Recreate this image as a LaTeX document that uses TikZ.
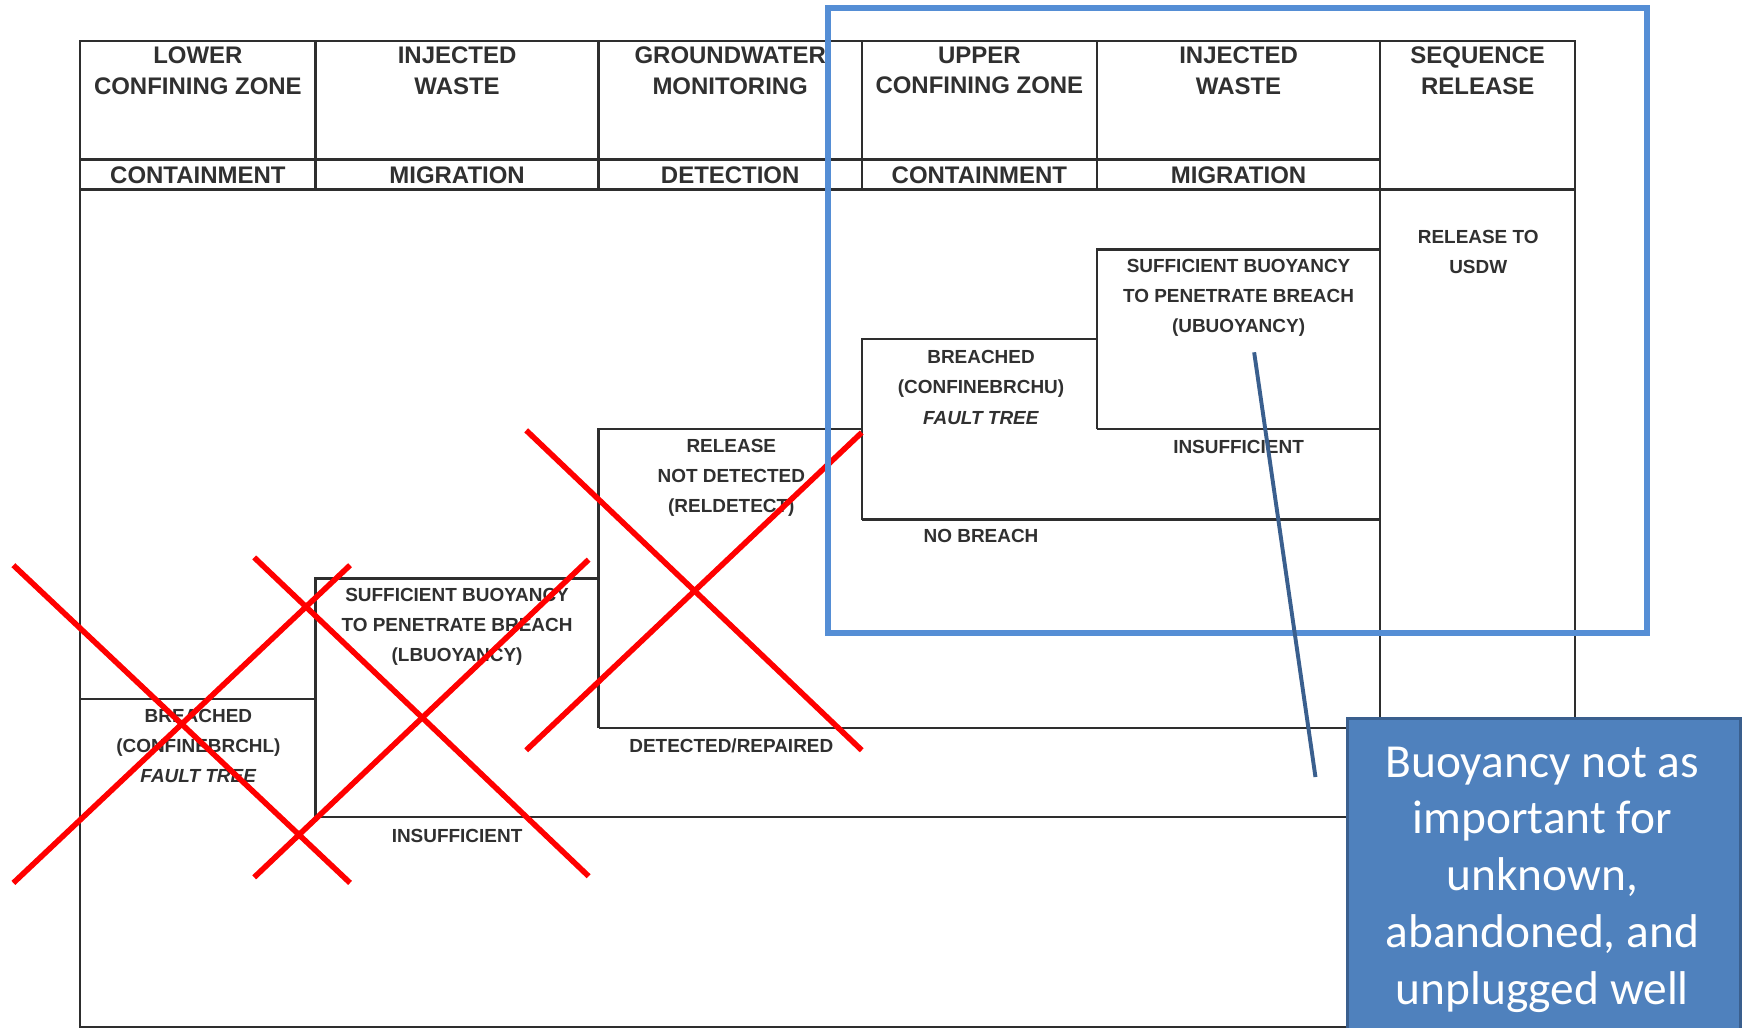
\documentclass[tikz,border=0pt]{standalone}
\usepackage{fontspec}
\newfontfamily\tablefont{Liberation Sans}
\newfontfamily\notefont{Carlito}
\definecolor{tableline}{HTML}{2E2E2E}
\definecolor{tabletext}{HTML}{303030}
\definecolor{framecol}{HTML}{558ED5}
\definecolor{notefill}{HTML}{4F81BD}
\definecolor{noteedge}{HTML}{3A5F8E}
\begin{document}
\begin{tikzpicture}[x=1pt,y=-1pt,
  grid/.style={draw=tableline, line width=2.2pt},
  headtxt/.style={font=\tablefont\bfseries\fontsize{21.5}{27}\selectfont, text=tabletext, align=center, inner sep=0pt},
  celltxt/.style={font=\tablefont\bfseries\fontsize{17}{27}\selectfont, text=tabletext, align=center, inner sep=0pt},
  cross/.style={draw=red, line width=5pt},
  frame/.style={draw=framecol, line width=5.5pt},
  pointer/.style={draw=noteedge, line width=3.5pt},
  notebox/.style={fill=notefill, draw=noteedge, line width=3pt, inner sep=0pt},
  notetxt/.style={font=\notefont\fontsize{42.5}{51}\selectfont, text=white, align=center, inner sep=0pt}
]
\fill[white] (0,0) rectangle (1568,922);
\clip (0,0) rectangle (1568,922);

% table frame and header rules
\draw[grid] (72,37) rectangle (1413,921);
\draw[grid] (72,143) -- (1238,143);
\draw[grid] (72,170) -- (1413,170);
\foreach \x in {283,537,773,984} \draw[grid] (\x,37) -- (\x,170);
\draw[grid] (1238,37) -- (1238,921);

% event tree branches
\draw[grid] (72,627) -- (283,627);
\draw[grid] (283,733) -- (283,519) -- (537,519);
\draw[grid] (283,733) -- (1238,733);
\draw[grid] (537,653) -- (537,385) -- (773,385);
\draw[grid] (537,653) -- (1238,653);
\draw[grid] (773,466) -- (773,304) -- (984,304);
\draw[grid] (773,466) -- (1238,466);
\draw[grid] (984,385) -- (984,224) -- (1238,224);
\draw[grid] (984,385) -- (1238,385);

% column headings
\node[headtxt] (h1) at (177.5,63.5) {LOWER\\CONFINING ZONE};
\node[headtxt] (h2) at (410,63.5) {INJECTED\\WASTE};
\node[headtxt] (h3) at (655,63.5) {GROUNDWATER\\MONITORING};
\node[headtxt] (h4) at (878.5,63.5) {UPPER\\CONFINING ZONE};
\node[headtxt] (h5) at (1111,63.5) {INJECTED\\WASTE};
\node[headtxt] (h6) at (1325.5,63.5) {SEQUENCE\\RELEASE};
\node[headtxt] (s1) at (177.5,157.5) {CONTAINMENT};
\node[headtxt] (s2) at (410,157.5) {MIGRATION};
\node[headtxt] (s3) at (655,157.5) {DETECTION};
\node[headtxt] (s4) at (878.5,157.5) {CONTAINMENT};
\node[headtxt] (s5) at (1111,157.5) {MIGRATION};

% branch labels
\node[celltxt] (usdw) at (1326,226) {RELEASE TO\\USDW};
\node[celltxt] (ubuoy) at (1111,267.5) {SUFFICIENT BUOYANCY\\TO PENETRATE BREACH\\(UBUOYANCY)};
\node[celltxt] (uinsuf) at (1111,401) {INSUFFICIENT};
\node[celltxt] (ubrch) at (880,347.5) {BREACHED\\(CONFINEBRCHU)\\\textit{FAULT TREE}};
\node[celltxt] (nobrch) at (880,481) {NO BREACH};
\node[celltxt] (reldet) at (656,428.5) {RELEASE\\NOT DETECTED\\(RELDETECT)};
\node[celltxt] (detrep) at (656,669) {DETECTED/REPAIRED};
\node[celltxt] (lbuoy) at (410,562.5) {SUFFICIENT BUOYANCY\\TO PENETRATE BREACH\\(LBUOYANCY)};
\node[celltxt] (linsuf) at (410,750) {INSUFFICIENT};
\node[celltxt] (lbrch) at (178,669.5) {BREACHED\\(CONFINEBRCHL)\\\textit{FAULT TREE}};

% crossed-out events
\draw[cross] (12,507) -- (314,792);
\draw[cross] (314,507) -- (12,792);
\draw[cross] (228,500) -- (528,786);
\draw[cross] (528,502) -- (228,787);
\draw[cross] (472,386) -- (773,673);
\draw[cross] (773,388) -- (472,673);

% highlighted upper zone
\draw[frame] (743,7) rectangle (1477,568);

% callout
\coordinate (ptrA) at (1125,316);
\coordinate (ptrB) at (1180,697);
\draw[pointer] (ptrA) -- (ptrB);
\node[notebox, anchor=north west, minimum width=353pt, minimum height=330pt] (note) at (1207,643) {};
\node[notetxt] (notetext) at (1383.5,789) {Buoyancy not as\\important for\\unknown,\\abandoned, and\\unplugged well};
\end{tikzpicture}
\end{document}
